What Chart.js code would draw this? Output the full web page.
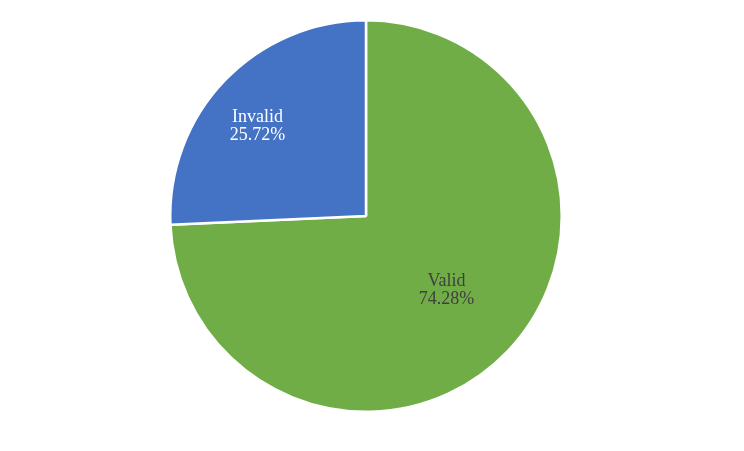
<!DOCTYPE html>
<html>
<head>
<meta charset="utf-8">
<script src="https://cdn.jsdelivr.net/npm/chart.js@4"></script>
<style>
  html, body { margin: 0; padding: 0; background: #fff; }
  #wrap { width: 744px; height: 451px; }
</style>
</head>
<body>
<div id="wrap"><canvas id="pie"></canvas></div>
<script>
const categories = ['Valid', 'Invalid'];
const shares = [74.28, 25.72];
const sliceColors = ['#70AD47', '#4472C4'];
const labelColors = ['#404040', '#ffffff'];
// label placement: fraction of radius, and a small turn (degrees) off the slice middle
const labelOffsets = [0.56, 0.72];
const labelTurns = [-1, -4];

const pieLabels = {
    id: 'pieLabels',
    afterDatasetsDraw(chart) {
        const ctx = chart.ctx;
        const meta = chart.getDatasetMeta(0);
        ctx.save();
        ctx.font = '18px "Liberation Serif", "Times New Roman", serif';
        ctx.textAlign = 'center';
        ctx.textBaseline = 'middle';
        meta.data.forEach((arc, i) => {
            const mid = (arc.startAngle + arc.endAngle) / 2 + labelTurns[i] * Math.PI / 180;
            const r = arc.outerRadius * labelOffsets[i];
            const x = arc.x + Math.cos(mid) * r;
            const y = arc.y + Math.sin(mid) * r;
            ctx.fillStyle = labelColors[i];
            ctx.fillText(categories[i], x, y - 9);
            ctx.fillText(shares[i].toFixed(2) + '%', x, y + 9);
        });
        ctx.restore();
    }
};

new Chart(document.getElementById('pie'), {
    type: 'pie',
    data: {
        labels: categories,
        datasets: [{
            data: shares,
            backgroundColor: sliceColors,
            borderColor: '#ffffff',
            borderWidth: 2.5
        }]
    },
    options: {
        responsive: true,
        maintainAspectRatio: false,
        animation: false,
        layout: {
            padding: { top: 19, bottom: 38, left: 0, right: 12 }
        },
        plugins: {
            legend: { display: false },
            tooltip: { enabled: false }
        }
    },
    plugins: [pieLabels]
});
</script>
</body>
</html>
